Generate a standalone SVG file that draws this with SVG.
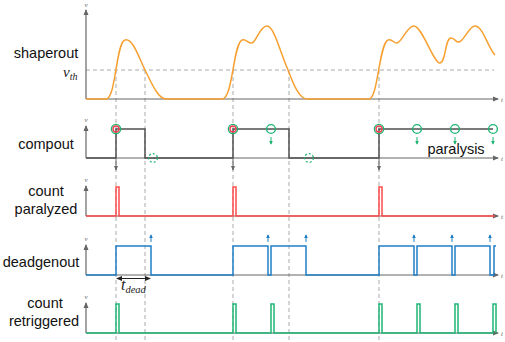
<svg xmlns="http://www.w3.org/2000/svg" width="505" height="342" viewBox="0 0 505 342">
<defs>
<style>
.axis{stroke:#666;stroke-width:1.2;fill:none}
.dash{stroke:#aaa;stroke-width:1;stroke-dasharray:4,3;fill:none}
.lbl{font-family:"Liberation Sans",Arial,sans-serif;font-size:14.5px;fill:#111;text-anchor:middle}
.ax{font-family:"Liberation Serif",serif;font-style:italic;font-size:7px;fill:#666}
.math{font-family:"Liberation Serif",serif;font-style:italic;fill:#222}
.sig{fill:none;stroke-width:1.5;stroke-linejoin:miter}
.g{stroke:#1fb574}
</style>
<marker id="ah" viewBox="0 0 6 6" refX="5" refY="3" markerWidth="5" markerHeight="5" orient="auto-start-reverse"><path d="M0,0.5 L6,3 L0,5.5 z" fill="#666"/></marker>
<marker id="ahb" viewBox="0 0 6 6" refX="5" refY="3" markerWidth="4" markerHeight="4" orient="auto"><path d="M0,0 L6,3 L0,6 z" fill="#1f7fc6"/></marker>
<marker id="ahg" viewBox="0 0 6 6" refX="5" refY="3" markerWidth="4" markerHeight="4" orient="auto"><path d="M0,0 L6,3 L0,6 z" fill="#1fb574"/></marker>
<marker id="ahk" viewBox="0 0 6 6" refX="5" refY="3" markerWidth="6" markerHeight="6" orient="auto-start-reverse"><path d="M0,0.5 L6,3 L0,5.5 z" fill="#222"/></marker>
</defs>

<g id="guides">
<line class="dash" x1="86" y1="70" x2="494" y2="70"/>
<line class="dash" x1="116" y1="70" x2="116" y2="342"/>
<line class="dash" x1="145" y1="70" x2="145" y2="342"/>
<line class="dash" x1="233" y1="70" x2="233" y2="342"/>
<line class="dash" x1="289" y1="70" x2="289" y2="342"/>
<line class="dash" x1="379" y1="70" x2="379" y2="342"/>
</g>

<g id="shaperout">
<text class="lbl" x="46" y="58">shaperout</text>
<text class="math" x="63" y="77" font-size="15">v<tspan font-size="10" dy="3">th</tspan></text>
<line class="axis" x1="86" y1="99" x2="86" y2="10" marker-end="url(#ah)"/>
<line class="axis" x1="86" y1="99" x2="498" y2="99" marker-end="url(#ah)"/>
<text class="ax" x="84.5" y="7">v</text>
<text class="ax" x="501" y="102">t</text>
<path class="sig" stroke="#f7a030" d="M86,99 H106 C116,99 116,42 125,40 C133,38 139,58 145,70 C151,82 158,99 166,99 H222 C233,99 233,44 242,40 C246,38 248,44 252,43 C256,42 260,26 267,26 C274,26 280,52 288,70 C293,83 299,99 307,99 H369 C378,99 379,44 388,40 C392,38 394,44 397,43 C402,42 407,26 414,26 C422,26 434,64 440,63 C446,62 445,38 451,38 C455,38 456,43 459,42 C464,41 469,26 475,26 C483,26 488,48 495,55"/>
</g>

<g id="compout">
<text class="lbl" x="46" y="149">compout</text>
<text class="lbl" x="456" y="154" font-size="14">paralysis</text>
<line class="axis" x1="86" y1="158" x2="86" y2="126" marker-end="url(#ah)"/>
<line class="axis" x1="86" y1="158" x2="498" y2="158" marker-end="url(#ah)"/>
<text class="ax" x="84.5" y="122">v</text>
<text class="ax" x="501" y="161">t</text>
<path class="sig" stroke="#505050" d="M86,158 H116 V129 H145 V158 H233 V129 H289 V158 H379 V129 H493"/>
<g stroke="#666" stroke-width="1">
<line x1="116" y1="159" x2="116" y2="170" marker-end="url(#ah)"/>
<line x1="233" y1="159" x2="233" y2="170" marker-end="url(#ah)"/>
<line x1="379" y1="159" x2="379" y2="170" marker-end="url(#ah)"/>
</g>
<g fill="none">
<circle cx="116" cy="129" r="4.6" stroke="#1fb574" stroke-width="1.4"/>
<circle cx="116" cy="129" r="3" stroke="#f04050" stroke-width="1.4"/>
<circle cx="233" cy="129" r="4.6" stroke="#1fb574" stroke-width="1.4"/>
<circle cx="233" cy="129" r="3" stroke="#f04050" stroke-width="1.4"/>
<circle cx="379" cy="129" r="4.6" stroke="#1fb574" stroke-width="1.4"/>
<circle cx="379" cy="129" r="3" stroke="#f04050" stroke-width="1.4"/>
<circle cx="271" cy="129" r="4.4" class="g" stroke-width="1.4"/>
<circle cx="417" cy="129" r="4.4" class="g" stroke-width="1.4"/>
<circle cx="455" cy="129" r="4.4" class="g" stroke-width="1.4"/>
<circle cx="493" cy="129" r="4.4" class="g" stroke-width="1.4"/>
<circle cx="153" cy="158" r="4.4" class="g" stroke-width="1.2" stroke-dasharray="2,2"/>
<circle cx="309" cy="158" r="4.4" class="g" stroke-width="1.2" stroke-dasharray="2,2"/>
</g>
<g class="g" stroke-width="1">
<line x1="271" y1="137" x2="271" y2="144" marker-end="url(#ahg)"/>
<line x1="417" y1="137" x2="417" y2="144" marker-end="url(#ahg)"/>
<line x1="455" y1="137" x2="455" y2="144" marker-end="url(#ahg)"/>
<line x1="493" y1="137" x2="493" y2="144" marker-end="url(#ahg)"/>
</g>
</g>

<g id="count-paralyzed">
<text class="lbl" x="46" y="196">count</text>
<text class="lbl" x="46" y="214">paralyzed</text>
<line class="axis" x1="86" y1="216" x2="86" y2="186" marker-end="url(#ah)"/>
<line class="axis" x1="86" y1="216" x2="498" y2="216" marker-end="url(#ah)"/>
<text class="ax" x="84.5" y="182">v</text>
<text class="ax" x="501" y="219">t</text>
<path class="sig" stroke="#ff4a4a" d="M86,216 H116 V187 H119 V216 H233 V187 H236 V216 H379 V187 H382 V216 H495"/>
</g>

<g id="deadgenout">
<text class="lbl" x="41" y="267">deadgenout</text>
<line class="axis" x1="86" y1="275" x2="86" y2="245" marker-end="url(#ah)"/>
<line class="axis" x1="86" y1="275" x2="498" y2="275" marker-end="url(#ah)"/>
<text class="ax" x="84.5" y="241">v</text>
<text class="ax" x="501" y="278">t</text>
<path class="sig" stroke="#1f7fc6" d="M86,275 H116 V246 H151 V275 H233 V246 H268 V275 H271 V246 H306 V275 H379 V246 H414 V275 H417 V246 H452 V275 H455 V246 H490 V275 H494 V246 H496"/>
<g stroke="#1f7fc6" stroke-width="1">
<line x1="151" y1="242" x2="151" y2="235" marker-end="url(#ahb)"/>
<line x1="268" y1="242" x2="268" y2="235" marker-end="url(#ahb)"/>
<line x1="306" y1="242" x2="306" y2="235" marker-end="url(#ahb)"/>
<line x1="414" y1="242" x2="414" y2="235" marker-end="url(#ahb)"/>
<line x1="452" y1="242" x2="452" y2="235" marker-end="url(#ahb)"/>
<line x1="490" y1="242" x2="490" y2="235" marker-end="url(#ahb)"/>
</g>
<line x1="117" y1="278.5" x2="150" y2="278.5" stroke="#222" stroke-width="1" marker-start="url(#ahk)" marker-end="url(#ahk)"/>
<text class="math" x="121" y="290" font-size="16">t<tspan font-size="10.5" dy="3">dead</tspan></text>
</g>

<g id="count-retriggered">
<text class="lbl" x="45" y="308">count</text>
<text class="lbl" x="44" y="326">retriggered</text>
<line class="axis" x1="86" y1="333" x2="86" y2="303" marker-end="url(#ah)"/>
<line class="axis" x1="86" y1="333" x2="498" y2="333" marker-end="url(#ah)"/>
<text class="ax" x="84.5" y="299">v</text>
<text class="ax" x="501" y="336">t</text>
<path class="sig" stroke="#1fb574" d="M86,333 H116 V304 H119 V333 H233 V304 H236 V333 H271 V304 H274 V333 H379 V304 H382 V333 H417 V304 H420 V333 H455 V304 H458 V333 H493 V304 H496 V333"/>
</g>
</svg>
